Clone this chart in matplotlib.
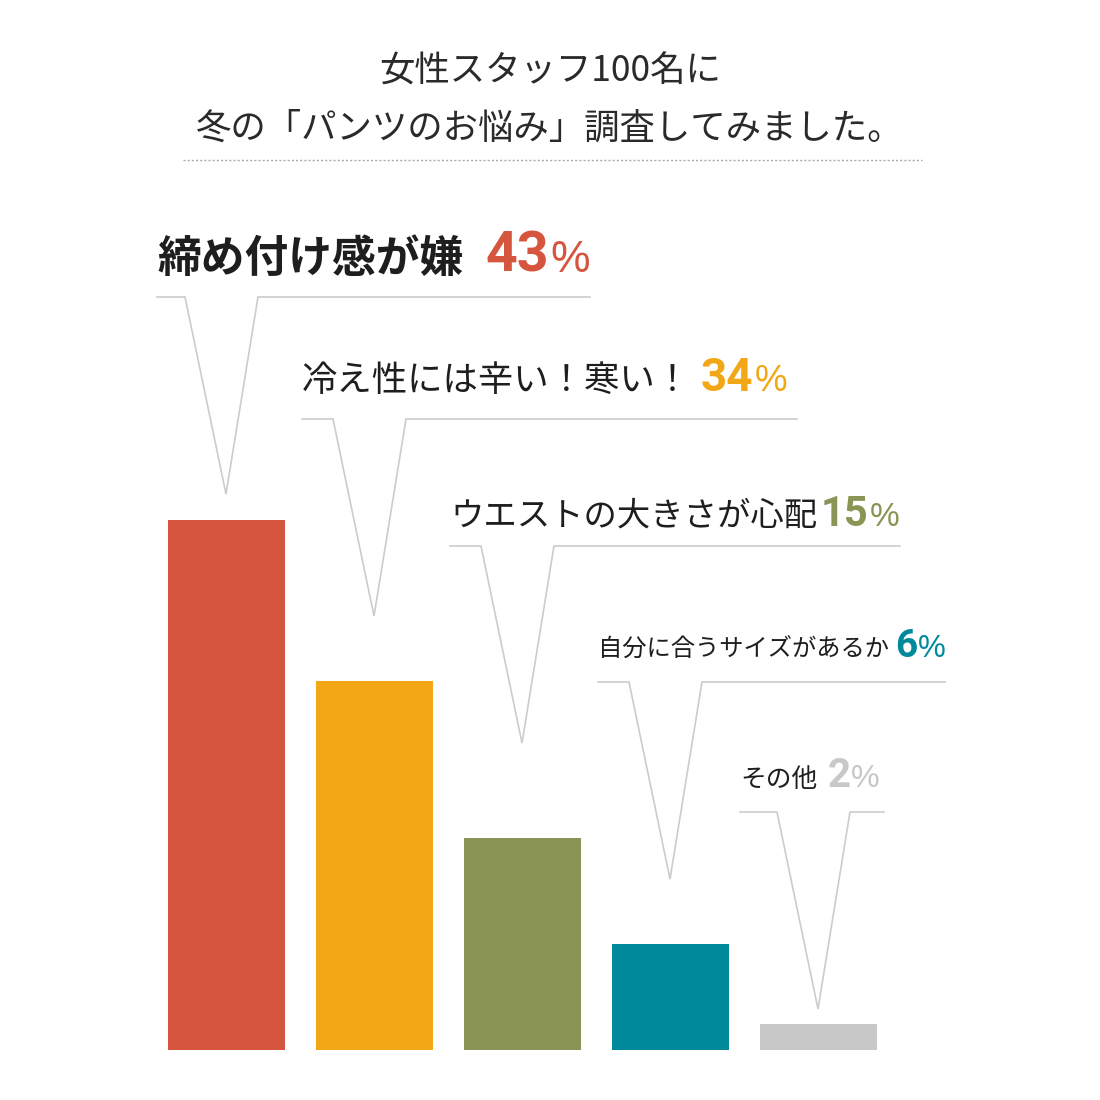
import matplotlib.pyplot as plt

plt.rcParams['font.family'] = ['Noto Sans CJK JP', 'DejaVu Sans']

# survey data
labels = ['締め付け感が嫌', '冷え性には辛い！寒い！', 'ウエストの大きさが心配',
          '自分に合うサイズがあるか', 'その他']
percents = [43, 34, 15, 6, 2]
# bar heights as drawn in the picture (not to scale with the percentages)
bar_heights = [530, 369, 212, 106, 26]
colors = ['#d6553f', '#f2a816', '#8a9455', '#00899a', '#c8c8c8']
title_lines = ['女性スタッフ100名に', '冬の「パンツのお悩み」調査してみました。']

W = 1100
fig = plt.figure(figsize=(11, 11), dpi=100)
fig.patch.set_facecolor('white')

# bars in their own axes, baseline at 50 px from the bottom
base = 50
axb = fig.add_axes([0, base / W, 1, (W - base) / W])
axb.set_xlim(0, W)
axb.set_ylim(0, W - base)
axb.axis('off')
centers = [226 + 148 * i for i in range(len(percents))]
axb.bar(centers, bar_heights, width=117, color=colors, zorder=2)

# overlay axes in pixel coordinates (y down)
ax = fig.add_axes([0, 0, 1, 1])
ax.set_xlim(0, W)
ax.set_ylim(W, 0)
ax.axis('off')
ax.patch.set_alpha(0)

ax.text(550, 82, title_lines[0], ha='center', va='baseline', fontsize=25.5, color='#2a2a2a')
ax.text(550, 139, title_lines[1], ha='center', va='baseline', fontsize=25.5, color='#2a2a2a')
ax.plot([183, 922], [160, 160], color='#aaaaaa', lw=1, ls=(0, (1.5, 1.5)))

line_y = [297, 419, 546, 682, 812]
line_x0 = [157, 302, 450, 598, 740]
line_x1 = [590, 797, 900, 945, 884]
label_size = [31.5, 25.5, 24, 17.5, 18.5]
label_weight = ['bold', 'normal', 'normal', 'normal', 'normal']
num_size = [40, 33, 30, 28, 29]
label_gap = [22, 10, 4, 6, 10]
text_drop = [25, 28, 20, 25, 25]

fig.canvas.draw()
renderer = fig.canvas.get_renderer()
inv = ax.transData.inverted()


def right_edge(t):
    bb = t.get_window_extent(renderer)
    return inv.transform((bb.x1, bb.y0))[0]


for i, (lab, p) in enumerate(zip(labels, percents)):
    y = line_y[i]
    cx = centers[i]
    tip_y = y + 197
    ax.plot([line_x0[i], cx - 41, cx, cx + 32, line_x1[i]],
            [y, y, tip_y, y, y], color='#cccccc', lw=1.2, solid_joinstyle='miter')
    ty = y - text_drop[i]
    t = ax.text(line_x0[i], ty, lab, fontsize=label_size[i], fontweight=label_weight[i],
                color='#1e1e1e', va='baseline', ha='left')
    x = right_edge(t) + label_gap[i]
    n = ax.text(x, ty, str(p), fontsize=num_size[i], fontweight='bold', color=colors[i],
                family='Roboto', va='baseline', ha='left')
    x = right_edge(n) + 1
    ax.text(x, ty, '%', fontsize=num_size[i] * 0.8, color=colors[i],
            family='Liberation Sans', fontweight='normal', va='baseline', ha='left')

fig.savefig('out.png', dpi=100, facecolor='white')
